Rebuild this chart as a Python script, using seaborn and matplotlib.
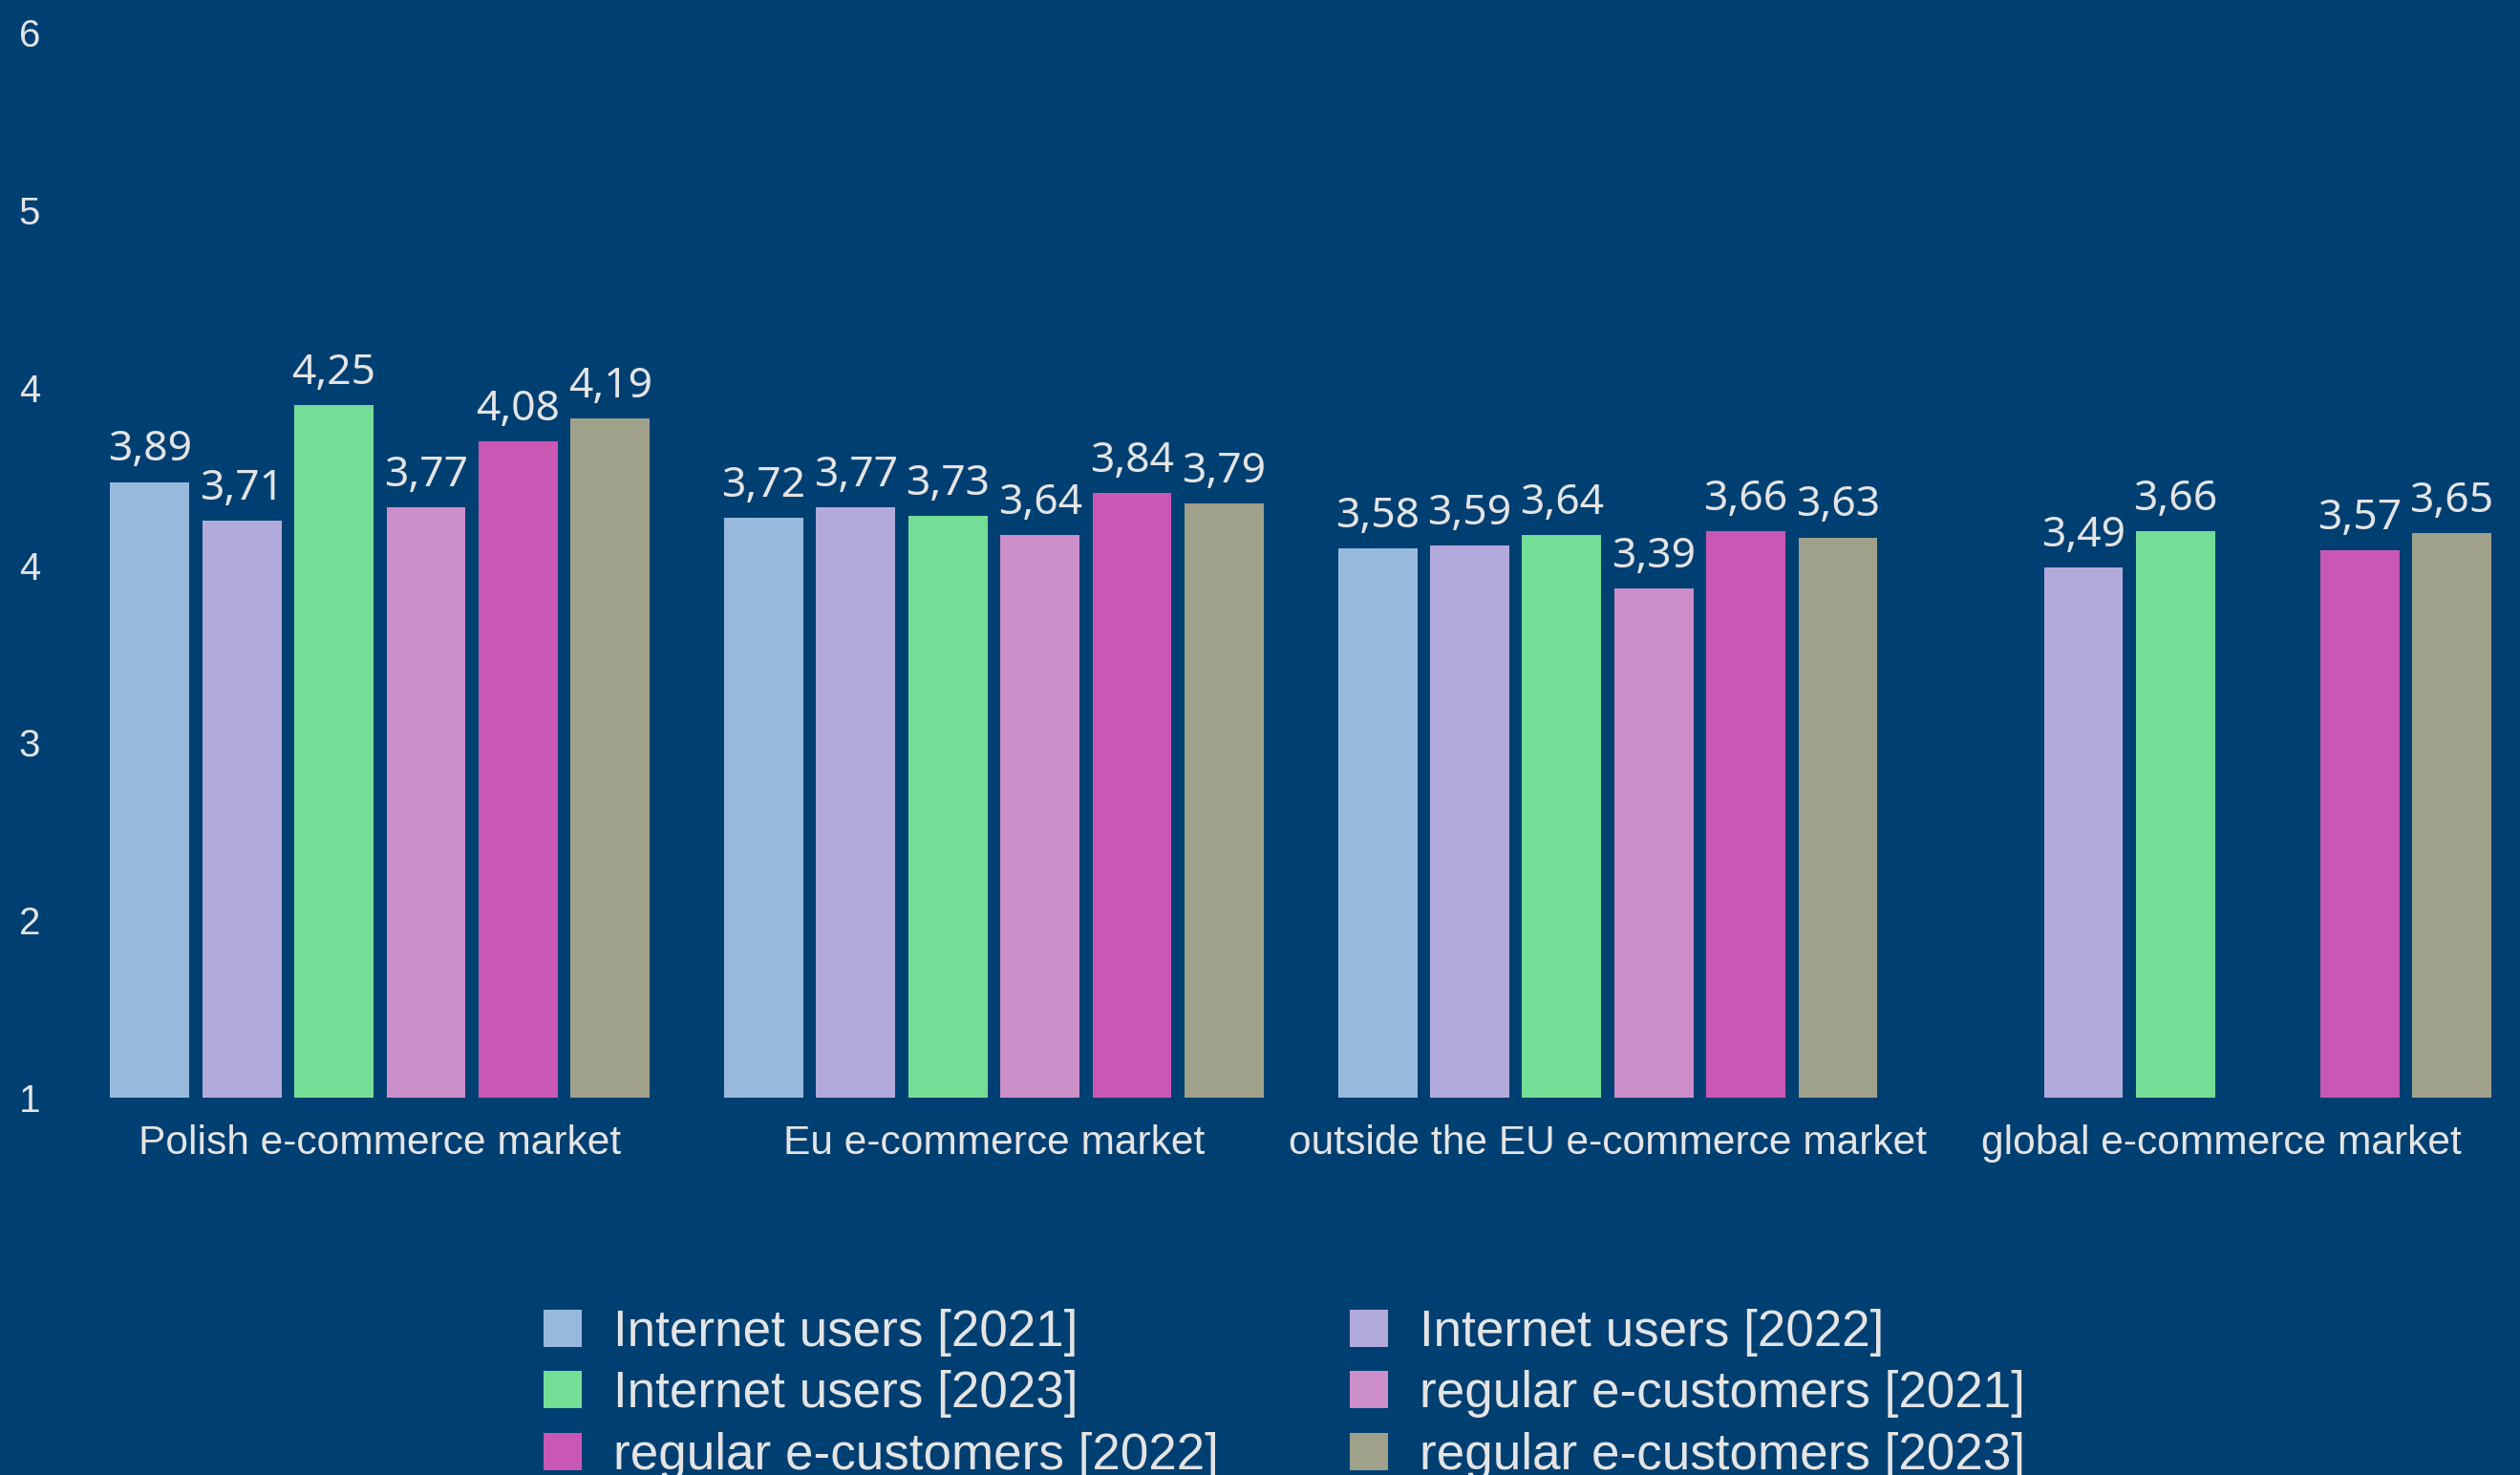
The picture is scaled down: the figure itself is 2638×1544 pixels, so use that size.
import numpy as np
import pandas as pd
import matplotlib
matplotlib.use("Agg")
import matplotlib.pyplot as plt
import seaborn as sns

# Category and series data
markets = ["Polish e-commerce market", "Eu e-commerce market",
           "outside the EU e-commerce market", "global e-commerce market"]
series = ["Internet users [2021]", "Internet users [2022]", "Internet users [2023]",
          "regular e-customers [2021]", "regular e-customers [2022]",
          "regular e-customers [2023]"]
internet_2021 = [3.89, 3.72, 3.58, np.nan]
internet_2022 = [3.71, 3.77, 3.59, 3.49]
internet_2023 = [4.25, 3.73, 3.64, 3.66]
regular_2021 = [3.77, 3.64, 3.39, np.nan]
regular_2022 = [4.08, 3.84, 3.66, 3.57]
regular_2023 = [4.19, 3.79, 3.63, 3.65]
y_tick_labels = ["1", "2", "3", "4", "4", "5", "6"]

colors = ["#97BADC", "#B3AADC", "#74DE97", "#CC8FCA", "#C958B5", "#A0A18A"]
bg = "#003F72"
fg = "#E4E4E4"

rows = []
for name, vals in zip(series, [internet_2021, internet_2022, internet_2023,
                               regular_2021, regular_2022, regular_2023]):
    for m, v in zip(markets, vals):
        if not np.isnan(v):
            rows.append({"market": m, "series": name, "value": v})
df = pd.DataFrame(rows)

sns.set_theme(style="white")
plt.rcParams["font.family"] = ["Liberation Sans", "DejaVu Sans"]

fig = plt.figure(figsize=(13.19, 7.72), dpi=200, facecolor=bg)
ax = fig.add_axes([0.0412, 0.2558, 0.950, 0.7222])
ax.set_facecolor(bg)

sns.barplot(data=df, x="market", y="value", hue="series",
            order=markets, hue_order=series, palette=colors,
            width=0.9, gap=0.14, saturation=1, errorbar=None,
            edgecolor="none", linewidth=0, ax=ax)

for cont in ax.containers:
    labels = [f"{v:.2f}".replace(".", ",") for v in cont.datavalues]
    ax.bar_label(cont, labels=labels, padding=4, color=fg, fontsize=16,
                 family=["Noto Sans", "DejaVu Sans"])

ax.set_ylim(1, 6)
ax.set_xlim(-0.45, 3.45)
ax.set_yticks(np.linspace(1, 6, 7))
ax.set_yticklabels(y_tick_labels)
ax.tick_params(axis="y", length=0, pad=32, labelsize=14.5, labelcolor=fg)
for t in ax.get_yticklabels():
    t.set_horizontalalignment("left")
ax.tick_params(axis="x", length=0, pad=10, labelsize=15.3, labelcolor=fg)
ax.set_xlabel("")
ax.set_ylabel("")
for s in ax.spines.values():
    s.set_visible(False)
ax.grid(False)

# Legend filled row by row across two columns
handles, labels = ax.get_legend_handles_labels()
if ax.legend_:
    ax.legend_.remove()
order = [0, 2, 4, 1, 3, 5]
fig.legend([handles[i] for i in order], [labels[i] for i in order],
           ncol=2, loc="upper left",
           bbox_to_anchor=(569 / 2638, 1 - 1370 / 1544),
           frameon=False, fontsize=19.1, labelcolor=fg,
           handlelength=0.75, handleheight=0.75, handletextpad=0.63,
           columnspacing=2.58, labelspacing=0.27, borderpad=0, borderaxespad=0)

fig.savefig("out.png", dpi=200, facecolor=bg)
